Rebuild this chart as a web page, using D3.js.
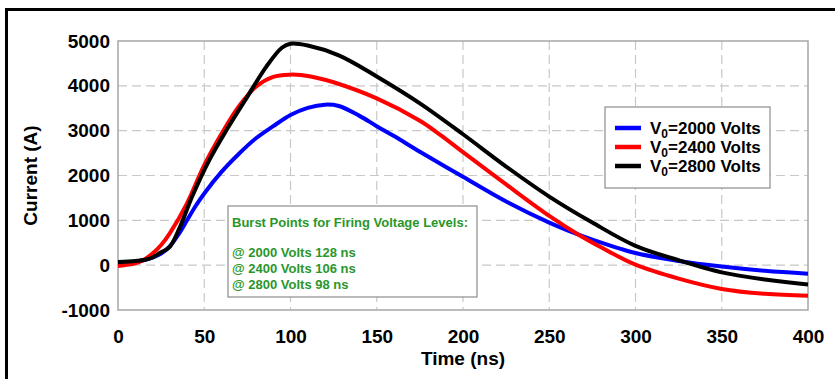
<!DOCTYPE html>
<html>
<head>
<meta charset="utf-8">
<script src="https://cdn.jsdelivr.net/npm/d3@7"></script>
<style>
  html, body { margin: 0; padding: 0; background: #fff; }
  svg { display: block; font-family: "Liberation Sans", Arial, sans-serif; }
</style>
</head>
<body>
<svg id="chart" width="835" height="379"></svg>
<script>
// Discharge current waveforms for three firing voltages: [time (ns), current (A)]
const series2000 = [[0,40],[10,70],[20,170],[25,260],[30,420],[35,680],[40,1000],[45,1320],[50,1600],[60,2080],[70,2480],[80,2830],[90,3100],[100,3350],[110,3510],[120,3580],[128,3550],[140,3330],[150,3100],[160,2880],[175,2530],[200,1970],[225,1420],[250,950],[267,680],[275,570],[300,270],[325,95],[350,-30],[375,-125],[400,-190]];
const series2400 = [[0,-20],[10,40],[15,120],[20,260],[25,450],[30,710],[40,1380],[50,2230],[60,2930],[70,3540],[80,3980],[90,4200],[100,4250],[106,4240],[115,4180],[125,4080],[150,3720],[175,3220],[187,2900],[200,2520],[225,1800],[250,1100],[267,680],[280,400],[300,10],[325,-300],[350,-530],[375,-640],[400,-680]];
const series2800 = [[0,70],[10,95],[15,115],[20,170],[24,265],[30,410],[36,860],[43,1530],[53,2350],[63,3020],[75,3760],[86,4430],[95,4850],[100,4940],[110,4900],[128,4680],[150,4210],[175,3610],[200,2920],[225,2200],[250,1530],[275,950],[300,430],[325,110],[350,-160],[375,-320],[400,-430]];

const seriesVoltages = ["2000", "2400", "2800"];
const seriesColors = ["#0000ff", "#ff0000", "#000000"];
const xTicks = [0, 50, 100, 150, 200, 250, 300, 350, 400];
const yTicks = [-1000, 0, 1000, 2000, 3000, 4000, 5000];
const burstLines = ["@ 2000 Volts 128 ns", "@ 2400 Volts 106 ns", "@ 2800 Volts 98 ns"];
const burstTitle = "Burst Points for Firing Voltage Levels:";

const svg = d3.select("#chart");
const plot = { left: 118, right: 808, top: 41, bottom: 310 };

const x = d3.scaleLinear().domain([0, 400]).range([plot.left, plot.right]);
const y = d3.scaleLinear().domain([-1000, 5000]).range([plot.bottom, plot.top]);

// outer frame (left and top edges)
svg.append("path")
  .attr("d", "M6.5,379 L6.5,9.5 L835,9.5")
  .attr("fill", "none").attr("stroke", "#000").attr("stroke-width", 3);

// dashed grid
const grid = svg.append("g");
grid.selectAll("line.v").data(xTicks.slice(1, -1)).join("line")
  .attr("x1", d => x(d)).attr("x2", d => x(d))
  .attr("y1", plot.top).attr("y2", plot.bottom)
  .attr("stroke", "#c8c8c8").attr("stroke-width", 1.2).attr("stroke-dasharray", "9,5");
grid.selectAll("line.h").data(yTicks.slice(1, -1)).join("line")
  .attr("x1", plot.left).attr("x2", plot.right)
  .attr("y1", d => y(d)).attr("y2", d => y(d))
  .attr("stroke", "#c8c8c8").attr("stroke-width", 1.2).attr("stroke-dasharray", "9,5");

// plot frame
svg.append("rect")
  .attr("x", plot.left).attr("y", plot.top)
  .attr("width", plot.right - plot.left).attr("height", plot.bottom - plot.top)
  .attr("fill", "none").attr("stroke", "#a6a6a6").attr("stroke-width", 1.5);

// axes (plain hyphen for negative labels)
const fmt = d => String(d);
const xAxis = svg.append("g")
  .attr("transform", `translate(0,${plot.bottom})`)
  .call(d3.axisBottom(x).tickValues(xTicks).tickSize(0).tickPadding(20).tickFormat(fmt));
const yAxis = svg.append("g")
  .attr("transform", `translate(${plot.left},0)`)
  .call(d3.axisLeft(y).tickValues(yTicks).tickSize(0).tickPadding(8).tickFormat(fmt));
[xAxis, yAxis].forEach(a => {
  a.select(".domain").remove();
  a.selectAll("text")
    .attr("font-family", "'Liberation Sans', Arial, sans-serif")
    .attr("font-size", 19).attr("font-weight", "bold").attr("fill", "#000");
});

// axis titles
svg.append("text")
  .attr("x", (plot.left + plot.right) / 2).attr("y", 365)
  .attr("text-anchor", "middle").attr("font-size", 19).attr("font-weight", "bold")
  .text("Time (ns)");
svg.append("text")
  .attr("transform", `translate(37,${(plot.top + plot.bottom) / 2}) rotate(-90)`)
  .attr("text-anchor", "middle").attr("font-size", 19).attr("font-weight", "bold")
  .text("Current (A)");

// current curves
const line = d3.line()
  .x(d => x(d[0])).y(d => y(d[1]))
  .curve(d3.curveCatmullRom.alpha(0.5));
const allSeries = [series2000, series2400, series2800];
svg.append("g").selectAll("path").data(allSeries).join("path")
  .attr("d", line)
  .attr("fill", "none")
  .attr("stroke", (d, i) => seriesColors[i])
  .attr("stroke-width", 4)
  .attr("stroke-linejoin", "round");

// legend
const legend = svg.append("g").attr("transform", "translate(605,107)");
legend.append("rect")
  .attr("width", 165).attr("height", 81)
  .attr("fill", "#fff").attr("stroke", "#8c8c8c").attr("stroke-width", 1.2);
const items = legend.selectAll("g.item").data(seriesVoltages).join("g")
  .attr("transform", (d, i) => `translate(0,${21 + i * 19})`);
items.append("line")
  .attr("x1", 10).attr("x2", 36)
  .attr("stroke", (d, i) => seriesColors[i]).attr("stroke-width", 4.5);
const lt = items.append("text")
  .attr("x", 45).attr("dy", "0.35em")
  .attr("font-size", 17).attr("font-weight", "bold").attr("fill", "#000");
lt.append("tspan").text("V");
lt.append("tspan").attr("font-size", 12).attr("dy", 4).text("0");
lt.append("tspan").attr("dy", -4).text(d => `=${d} Volts`);

// burst-point note
const note = svg.append("g").attr("transform", "translate(228,206)");
note.append("rect")
  .attr("width", 249).attr("height", 91)
  .attr("fill", "#fff").attr("stroke", "#8c8c8c").attr("stroke-width", 1.2);
const noteText = note.append("g")
  .attr("font-size", 13).attr("font-weight", "bold").attr("fill", "#2a962a");
noteText.append("text").attr("x", 4).attr("y", 21).text(burstTitle);
noteText.selectAll("text.b").data(burstLines).join("text")
  .attr("x", 4).attr("y", (d, i) => 51 + i * 16).text(d => d);
</script>
</body>
</html>
